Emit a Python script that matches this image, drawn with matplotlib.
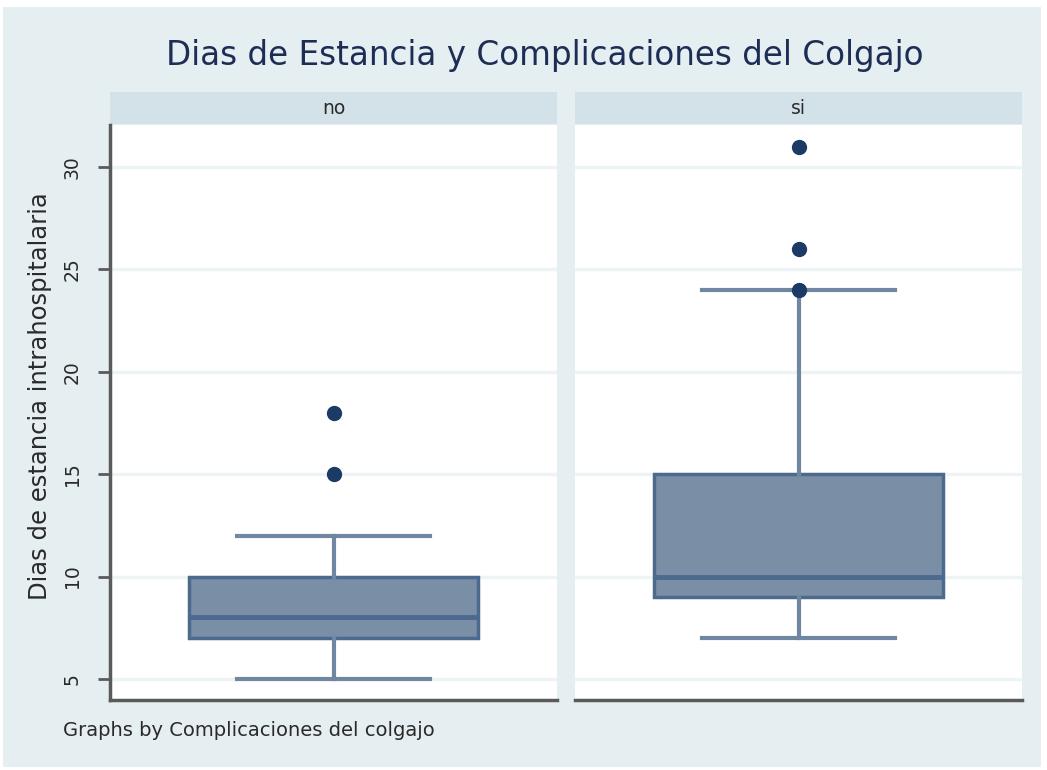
import matplotlib
matplotlib.use("Agg")
import matplotlib.pyplot as plt
from matplotlib.patches import Rectangle

# ---- data ----
groups = ["no", "si"]
q1 = [7, 9]
medians = [8, 10]
q3 = [10, 15]
whisker_low = [5, 7]
whisker_high = [12, 24]
outliers = [[15, 18], [24, 26, 31]]
yticks = [5, 10, 15, 20, 25, 30]

title = "Dias de Estancia y Complicaciones del Colgajo"
ylabel = "Dias de estancia intrahospitalaria"
note = "Graphs by Complicaciones del colgajo"

W, H = 1047, 770
BG = "#E5EEF0"
STRIP = "#D3E1E8"
GRID = "#EEF4F6"
BOXFILL = "#7A8FA6"
BOXEDGE = "#4B6A8E"
WHISK = "#6F87A1"
DOT = "#1B3A66"
AXC = "#5A5A5A"
TXT = "#2A2A2A"
plt.rcParams["font.family"] = ["DejaVu Sans"]

fig = plt.figure(figsize=(W / 100, H / 100), dpi=100, facecolor="white")

def px(x0, y0, x1, y1):
    return [x0 / W, 1 - y1 / H, (x1 - x0) / W, (y1 - y0) / H]

bg = fig.add_axes([0, 0, 1, 1], zorder=-10)
bg.set_xlim(0, W); bg.set_ylim(H, 0); bg.axis("off")
bg.add_patch(Rectangle((3, 7), 1038, 760, color=BG, lw=0))

fig.text(545 / W, 1 - 56 / H, title, ha="center", va="center",
         fontsize=23.5, color="#1E2D55")
fig.text(63 / W, 1 - 731 / H, note, ha="left", va="center",
         fontsize=14, color=TXT)
fig.text(40 / W, 1 - 396 / H, ylabel, ha="center", va="center",
         rotation=90, fontsize=17.5, color=TXT)

panels = [(110, 557), (575, 1022)]
ylim = (3.97, 32.05)
for i, (x0, x1) in enumerate(panels):
    # strip
    sax = fig.add_axes(px(x0, 92, x1, 124))
    sax.set_facecolor(STRIP)
    sax.set_xticks([]); sax.set_yticks([])
    for s in sax.spines.values():
        s.set_visible(False)
    sax.text(0.5, 0.5, groups[i], ha="center", va="center", fontsize=13.5,
             color=TXT, transform=sax.transAxes)

    ax = fig.add_axes(px(x0, 125, x1, 700))
    ax.set_facecolor("white")
    ax.set_xlim(0, 1)
    ax.set_ylim(*ylim)
    for y in yticks:
        ax.axhline(y, color=GRID, lw=2.5, zorder=0)
    stats = [dict(med=medians[i], q1=q1[i], q3=q3[i], whislo=whisker_low[i],
                  whishi=whisker_high[i], fliers=outliers[i])]
    ax.bxp(stats, positions=[0.5], widths=0.645, capwidths=0.43,
           patch_artist=True, showfliers=True,
           boxprops=dict(facecolor=BOXFILL, edgecolor=BOXEDGE, lw=2.5),
           medianprops=dict(color=BOXEDGE, lw=3.5),
           whiskerprops=dict(color=WHISK, lw=3),
           capprops=dict(color=WHISK, lw=3),
           flierprops=dict(marker="o", markerfacecolor=DOT, markeredgecolor=DOT,
                           markersize=10))
    ax.set_xticks([])
    for s in ["top", "right"]:
        ax.spines[s].set_visible(False)
    ax.spines["bottom"].set_color(AXC)
    ax.spines["bottom"].set_linewidth(2.5)
    if i == 0:
        ax.spines["left"].set_color(AXC)
        ax.spines["left"].set_linewidth(2.5)
        ax.set_yticks(yticks)
        ax.set_yticklabels([str(t) for t in yticks], rotation=90, va="center",
                           ha="center", fontsize=13.5, color=TXT)
        ax.tick_params(axis="y", length=9, width=2, color=AXC, pad=18)
    else:
        ax.spines["left"].set_visible(False)
        ax.set_yticks([])

fig.savefig("out.png", dpi=100, facecolor="white")
